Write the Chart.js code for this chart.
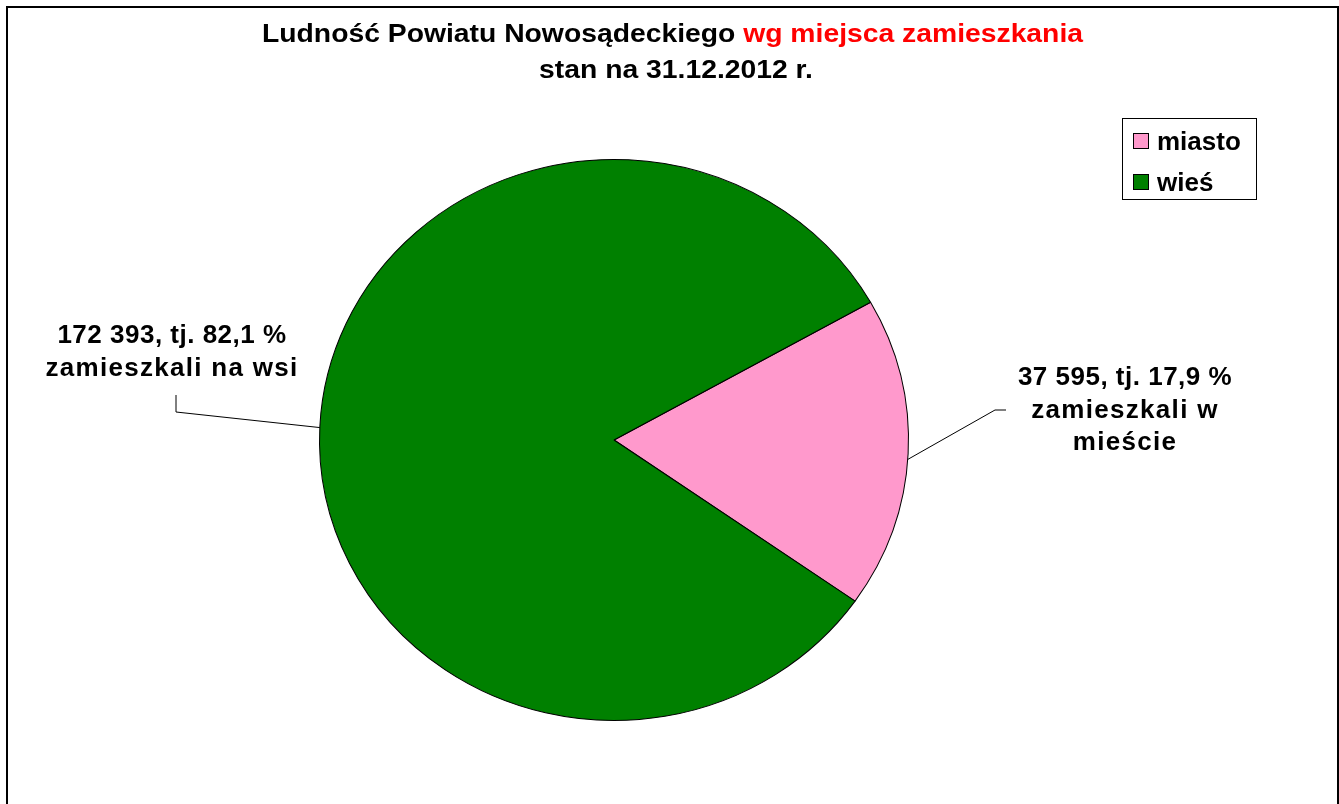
<!DOCTYPE html>
<html>
<head>
<meta charset="utf-8">
<script src="https://cdn.jsdelivr.net/npm/chart.js@4"></script>
<style>
  html, body { margin: 0; padding: 0; background: #fff; }
  #wrap { width: 1339px; height: 804px; position: relative; }
</style>
</head>
<body>
<div id="wrap"><canvas id="pieChart"></canvas></div>
<script>
// data
const categories = ['miasto', 'wieś'];
const population = [37595, 172393];
const percents = ['17,9', '82,1'];
const labelLines = [
    ['37 595, tj. 17,9 %', 'zamieszkali w', 'mieście'],
    ['172 393, tj. 82,1 %', 'zamieszkali na wsi']
];
const sliceColors = ['#FF99CC', '#008000'];

const FONT = '"Liberation Sans", Arial, sans-serif';

// squash the circle a bit, Excel pie is slightly wider than tall
const SX = 295 / 288, SY = 281 / 288;

const framePlugin = {
    id: 'frame',
    beforeDraw(chart) {
        const ctx = chart.ctx;
        ctx.save();
        ctx.fillStyle = '#fff';
        ctx.fillRect(0, 0, chart.width, chart.height);
        ctx.strokeStyle = '#000';
        ctx.lineWidth = 2;
        ctx.strokeRect(7, 7, 1331, 820);
        ctx.restore();
    }
};

const ellipsePlugin = {
    id: 'ellipse',
    beforeDatasetsDraw(chart) {
        const arc = chart.getDatasetMeta(0).data[0];
        const ctx = chart.ctx;
        ctx.save();
        ctx.translate(arc.x, arc.y);
        ctx.scale(SX, SY);
        ctx.translate(-arc.x, -arc.y);
    },
    afterDatasetsDraw(chart) {
        chart.ctx.restore();
    }
};

// draw text stretched/squeezed to a given width
function fitText(ctx, text, x, y, width) {
    const w = ctx.measureText(text).width;
    ctx.save();
    ctx.translate(x, y);
    ctx.scale(width / w, 1);
    ctx.fillText(text, 0, 0);
    ctx.restore();
}

const titlePlugin = {
    id: 'title2',
    afterDraw(chart) {
        const ctx = chart.ctx;
        ctx.save();
        ctx.font = 'bold 26px ' + FONT;
        ctx.textBaseline = 'alphabetic';
        const a = 'Ludność Powiatu Nowosądeckiego ';
        const b = 'wg miejsca zamieszkania';
        const wa = ctx.measureText(a).width, wb = ctx.measureText(b).width;
        const k = 821 / (wa + wb);
        const x0 = 262;
        ctx.textAlign = 'left';
        ctx.fillStyle = '#000';
        fitText(ctx, a, x0, 42, wa * k);
        ctx.fillStyle = '#FF0000';
        fitText(ctx, b, x0 + wa * k, 42, wb * k);
        ctx.fillStyle = '#000';
        const c = 'stan na 31.12.2012 r.';
        const wc = ctx.measureText(c).width * k;
        fitText(ctx, c, 676 - wc / 2, 78, wc);
        ctx.restore();
    }
};

const legendPlugin = {
    id: 'legendBox',
    afterDraw(chart) {
        const ctx = chart.ctx;
        ctx.save();
        ctx.fillStyle = '#fff';
        ctx.strokeStyle = '#000';
        ctx.lineWidth = 1;
        ctx.fillRect(1122.5, 118.5, 134, 81);
        ctx.strokeRect(1122.5, 118.5, 134, 81);
        ctx.font = 'bold 26px ' + FONT;
        ctx.textBaseline = 'middle';
        categories.forEach((c, i) => {
            const y = 142 + i * 41;
            ctx.fillStyle = sliceColors[i];
            ctx.fillRect(1133.5, y - 8.5, 15, 15);
            ctx.strokeRect(1133.5, y - 8.5, 15, 15);
            ctx.fillStyle = '#000';
            ctx.fillText(c, 1157, y + 1);
        });
        ctx.restore();
    }
};

// value labels with leader lines
const labelPos = [
    { x: 1125, y: 378, elbow: [995, 410], end: [1006, 410] },
    { x: 172, y: 336, elbow: [176, 412], end: [176, 395] }
];

const dataLabelPlugin = {
    id: 'sliceLabels',
    afterDraw(chart) {
        const ctx = chart.ctx;
        const meta = chart.getDatasetMeta(0);
        ctx.save();
        meta.data.forEach((arc, i) => {
            const mid = (arc.startAngle + arc.endAngle) / 2 + (i === 0 ? 0.02 : -0.005);
            const r = arc.outerRadius;
            const sx = arc.x + Math.cos(mid) * r * SX;
            const sy = arc.y + Math.sin(mid) * r * SY;
            const p = labelPos[i];
            ctx.strokeStyle = '#000';
            ctx.lineWidth = 1;
            ctx.beginPath();
            ctx.moveTo(sx, sy);
            ctx.lineTo(p.elbow[0], p.elbow[1]);
            ctx.lineTo(p.end[0], p.end[1]);
            ctx.stroke();
            ctx.fillStyle = '#000';
            ctx.font = 'bold 26px ' + FONT;
            ctx.textAlign = 'center';
            ctx.textBaseline = 'middle';
            labelLines[i].forEach((t, j) => {
                ctx.letterSpacing = j === 0 ? '0.5px' : '1.3px';
                ctx.fillText(t, p.x, p.y + j * 32.5);
            });
        });
        ctx.restore();
    }
};

new Chart(document.getElementById('pieChart'), {
    type: 'pie',
    data: {
        labels: categories,
        datasets: [{
            data: population,
            backgroundColor: sliceColors,
            borderColor: '#000',
            borderWidth: 1
        }]
    },
    options: {
        responsive: true,
        maintainAspectRatio: false,
        animation: false,
        rotation: 60.6,
        layout: { padding: { left: 326, right: 437, top: 152, bottom: 76 } },
        plugins: {
            legend: { display: false },
            title: { display: false },
            tooltip: { enabled: false }
        }
    },
    plugins: [framePlugin, ellipsePlugin, titlePlugin, legendPlugin, dataLabelPlugin]
});
</script>
</body>
</html>
